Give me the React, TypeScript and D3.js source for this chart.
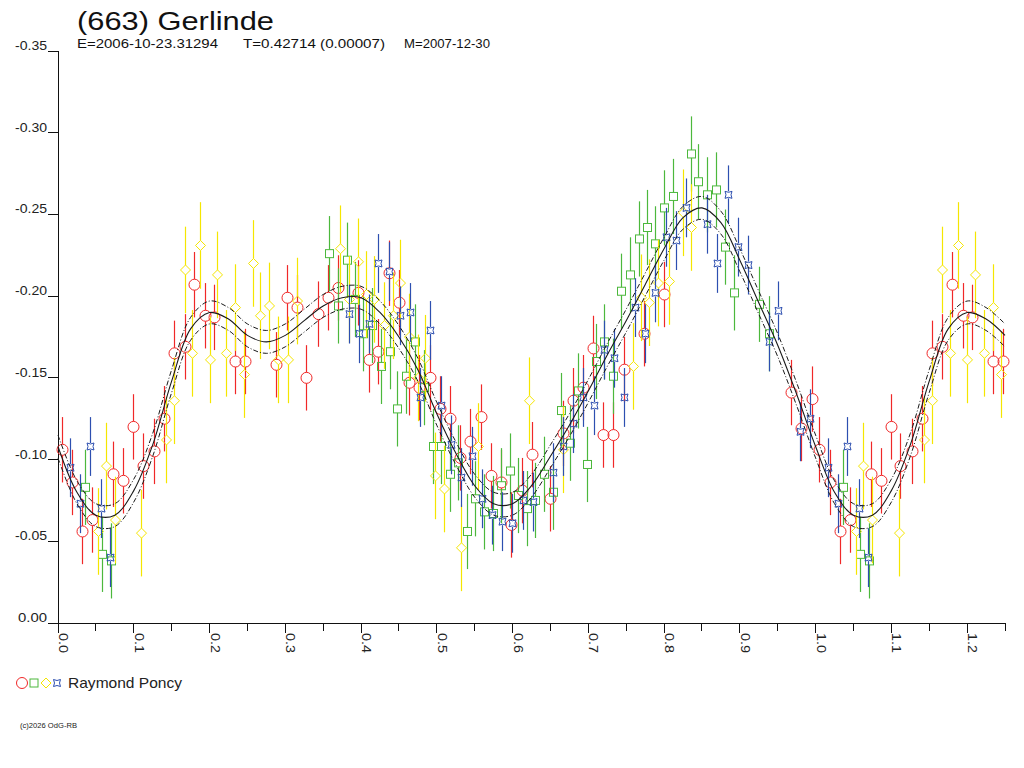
import React, { useEffect, useRef } from "react";
import * as d3 from "d3";

// phase, reduced magnitude
const redPoints: [number, number][] = [
  [0.005, -0.106], [0.019, -0.086], [0.032, -0.056], [0.045, -0.063], [0.073, -0.091],
  [0.086, -0.087], [0.099, -0.120], [0.112, -0.096], [0.127, -0.105], [0.140, -0.125],
  [0.153, -0.165], [0.167, -0.169], [0.180, -0.207], [0.194, -0.188], [0.206, -0.187],
  [0.234, -0.160], [0.247, -0.160], [0.288, -0.158], [0.302, -0.199], [0.315, -0.193],
  [0.328, -0.150], [0.343, -0.189], [0.356, -0.199], [0.369, -0.205], [0.396, -0.202],
  [0.410, -0.161], [0.422, -0.166], [0.437, -0.214], [0.450, -0.196], [0.463, -0.147],
  [0.476, -0.144], [0.491, -0.150], [0.504, -0.131], [0.517, -0.125], [0.530, -0.101],
  [0.544, -0.111], [0.558, -0.126], [0.571, -0.090], [0.585, -0.086], [0.598, -0.060],
  [0.612, -0.081], [0.626, -0.103], [0.649, -0.076], [0.667, -0.116], [0.680, -0.136],
  [0.693, -0.144], [0.706, -0.168], [0.720, -0.115], [0.733, -0.115], [0.747, -0.155],
  [0.774, -0.177], [0.800, -0.201], [0.967, -0.141], [0.981, -0.119], [0.995, -0.137],
];

const greenPoints: [number, number][] = [
  [0.036, -0.083], [0.058, -0.042], [0.070, -0.038], [0.358, -0.226], [0.381, -0.222],
  [0.370, -0.194], [0.392, -0.198], [0.403, -0.177], [0.415, -0.182], [0.426, -0.157],
  [0.438, -0.166], [0.448, -0.131], [0.460, -0.151], [0.471, -0.172], [0.483, -0.144],
  [0.495, -0.108], [0.505, -0.108], [0.517, -0.091], [0.528, -0.098], [0.540, -0.056],
  [0.550, -0.076], [0.562, -0.068], [0.574, -0.067], [0.585, -0.084], [0.597, -0.093],
  [0.607, -0.078], [0.619, -0.070], [0.630, -0.075], [0.642, -0.091], [0.653, -0.080],
  [0.664, -0.130], [0.676, -0.110], [0.687, -0.142], [0.698, -0.097], [0.710, -0.160],
  [0.721, -0.172], [0.733, -0.151], [0.743, -0.203], [0.755, -0.213], [0.767, -0.235],
  [0.778, -0.242], [0.788, -0.232], [0.800, -0.254], [0.812, -0.261], [0.835, -0.287],
  [0.845, -0.270], [0.857, -0.262], [0.868, -0.265], [0.880, -0.230], [0.892, -0.202],
  [0.925, -0.195], [0.938, -0.177],
];

const yellowPoints: [number, number][] = [
  [0.063, -0.096], [0.053, -0.056], [0.075, -0.063], [0.110, -0.055], [0.143, -0.112],
  [0.153, -0.136], [0.167, -0.216], [0.177, -0.165], [0.188, -0.231], [0.200, -0.161],
  [0.210, -0.213], [0.222, -0.165], [0.234, -0.193], [0.245, -0.152], [0.257, -0.220],
  [0.267, -0.188], [0.279, -0.194], [0.290, -0.161], [0.303, -0.161], [0.315, -0.197],
  [0.372, -0.229], [0.396, -0.221], [0.384, -0.198], [0.406, -0.201], [0.417, -0.198],
  [0.430, -0.182], [0.442, -0.188], [0.452, -0.208], [0.463, -0.175], [0.475, -0.150],
  [0.485, -0.162], [0.497, -0.090], [0.509, -0.082], [0.532, -0.046], [0.554, -0.108],
  [0.622, -0.136], [0.667, -0.106], [0.759, -0.157], [0.770, -0.199], [0.780, -0.196],
  [0.792, -0.208], [0.806, -0.209], [0.825, -0.251], [0.835, -0.242],
];

const bluePoints: [number, number][] = [
  [0.016, -0.095], [0.042, -0.108], [0.029, -0.073], [0.057, -0.070], [0.069, -0.040],
  [0.384, -0.189], [0.397, -0.177], [0.410, -0.183], [0.423, -0.220], [0.437, -0.215],
  [0.451, -0.188], [0.464, -0.190], [0.478, -0.138], [0.491, -0.179], [0.505, -0.133],
  [0.519, -0.109], [0.532, -0.089], [0.546, -0.102], [0.560, -0.076], [0.573, -0.066],
  [0.586, -0.062], [0.599, -0.061], [0.614, -0.075], [0.627, -0.074], [0.653, -0.092],
  [0.667, -0.108], [0.680, -0.122], [0.693, -0.138], [0.708, -0.133], [0.721, -0.167],
  [0.734, -0.162], [0.747, -0.138], [0.762, -0.193], [0.775, -0.177], [0.788, -0.202],
  [0.802, -0.236], [0.816, -0.234], [0.829, -0.254], [0.857, -0.244], [0.870, -0.220],
  [0.884, -0.262], [0.897, -0.230], [0.911, -0.219], [0.938, -0.172], [0.951, -0.191],
  [0.979, -0.117], [0.992, -0.125],
];

// error bar half-lengths per session
const redErr = 0.020;
const greenErr = 0.023;
const yellowErr = 0.0265;
const blueErr = 0.018;

// fitted lightcurve over one period
const fitPhases = [
  0.0, 0.025, 0.05, 0.075, 0.1, 0.125, 0.15, 0.175, 0.2, 0.225, 0.25, 0.275, 0.3, 0.325,
  0.35, 0.375, 0.4, 0.425, 0.45, 0.475, 0.5, 0.525, 0.55, 0.575, 0.6, 0.625, 0.65, 0.675,
  0.7, 0.725, 0.75, 0.775, 0.8, 0.825, 0.85, 0.875, 0.9, 0.925, 0.95, 0.975,
];
const fitMags = [
  -0.108, -0.080, -0.066, -0.066, -0.081, -0.109, -0.148, -0.180, -0.190, -0.186, -0.176,
  -0.172, -0.176, -0.185, -0.194, -0.199, -0.199, -0.190, -0.175, -0.155, -0.128, -0.104,
  -0.084, -0.073, -0.073, -0.084, -0.102, -0.121, -0.142, -0.164, -0.185, -0.207, -0.229,
  -0.248, -0.254, -0.245, -0.222, -0.196, -0.170, -0.140,
];
const fitBand = 0.007;

const yTicks = [0, -0.05, -0.1, -0.15, -0.2, -0.25, -0.3, -0.35];
const xMajorTicks = [0, 0.1, 0.2, 0.3, 0.4, 0.5, 0.6, 0.7, 0.8, 0.9, 1.0, 1.1, 1.2];
const xMinorTicks = [0.05, 0.15, 0.25, 0.35, 0.45, 0.55, 0.65, 0.75, 0.85, 0.95, 1.05, 1.15, 1.25];

const RED = "#f02828";
const GREEN = "#4cb83c";
const YELLOW = "#f5e600";
const BLUE = "#2d4fb0";

const FONT = "'Liberation Sans', Arial, sans-serif";

const App: React.FC = () => {
  const svgRef = useRef<SVGSVGElement>(null);

  useEffect(() => {
    if (!svgRef.current) return;
    const svg = d3.select(svgRef.current);
    svg.selectAll("*").remove();

    const x = d3.scaleLinear().domain([0, 1.25]).range([58, 1005]);
    const y = d3.scaleLinear().domain([0, -0.35]).range([623, 51]);

    svg.append("rect").attr("width", 1024).attr("height", 768).attr("fill", "#fff");

    // Titles
    svg.append("text")
      .attr("x", 77).attr("y", 30)
      .attr("textLength", 197).attr("lengthAdjust", "spacingAndGlyphs")
      .style("font-family", FONT).style("font-size", "25px").style("fill", "#111")
      .text("(663) Gerlinde");

    const sub = [
      { x: 77, w: 141, t: "E=2006-10-23.31294" },
      { x: 243, w: 142, t: "T=0.42714 (0.00007)" },
      { x: 404, w: 86, t: "M=2007-12-30" },
    ];
    sub.forEach((s) => {
      svg.append("text")
        .attr("x", s.x).attr("y", 48)
        .attr("textLength", s.w).attr("lengthAdjust", "spacingAndGlyphs")
        .style("font-family", FONT).style("font-size", "13px").style("fill", "#111")
        .text(s.t);
    });

    // Axes
    const axis = svg.append("g").attr("stroke", "#111").attr("stroke-width", 1)
      .attr("shape-rendering", "crispEdges");
    axis.append("line").attr("x1", 58.5).attr("x2", 58.5).attr("y1", y(-0.35)).attr("y2", 633);
    axis.append("line").attr("x1", 48).attr("x2", x(1.25)).attr("y1", y(0)).attr("y2", y(0));

    yTicks.forEach((t) => {
      axis.append("line").attr("x1", 48).attr("x2", 58).attr("y1", y(t)).attr("y2", y(t));
      svg.append("text")
        .attr("x", 47).attr("y", y(t) - 1)
        .attr("text-anchor", "end")
        .attr("textLength", t === 0 ? 29 : 32).attr("lengthAdjust", "spacingAndGlyphs")
        .style("font-family", FONT).style("font-size", "13px").style("fill", "#222")
        .text(t === 0 ? "0.00" : t.toFixed(2));
    });

    xMajorTicks.forEach((t) => {
      axis.append("line").attr("x1", x(t)).attr("x2", x(t)).attr("y1", y(0)).attr("y2", y(0) + 10);
      svg.append("text")
        .attr("transform", `translate(${x(t) + 1},633) rotate(90)`)
        .attr("textLength", 20).attr("lengthAdjust", "spacingAndGlyphs")
        .style("font-family", FONT).style("font-size", "13px").style("fill", "#222")
        .text(t.toFixed(1));
    });
    xMinorTicks.forEach((t) => {
      axis.append("line").attr("x1", x(t)).attr("x2", x(t)).attr("y1", y(0)).attr("y2", y(0) + 8);
    });

    // Marker shapes
    const marker = (g: d3.Selection<SVGGElement, unknown, null, undefined>, kind: string, cx: number, cy: number, color: string) => {
      if (kind === "circle") {
        g.append("circle").attr("cx", cx).attr("cy", cy).attr("r", 5.5)
          .attr("fill", "none").attr("stroke", color).attr("stroke-width", 1);
      } else if (kind === "square") {
        g.append("rect").attr("x", cx - 4).attr("y", cy - 4).attr("width", 8).attr("height", 8)
          .attr("fill", "none").attr("stroke", color).attr("stroke-width", 1);
      } else if (kind === "diamond") {
        g.append("path")
          .attr("d", `M${cx},${cy - 5}L${cx + 5},${cy}L${cx},${cy + 5}L${cx - 5},${cy}Z`)
          .attr("fill", "none").attr("stroke", color).attr("stroke-width", 1);
      } else {
        const s = 3.5;
        g.append("path")
          .attr("d", `M${cx - s},${cy - s}Q${cx},${cy - 1.5} ${cx + s},${cy - s}Q${cx + 1.5},${cy} ${cx + s},${cy + s}Q${cx},${cy + 1.5} ${cx - s},${cy + s}Q${cx - 1.5},${cy} ${cx - s},${cy - s}Z`)
          .attr("fill", "none").attr("stroke", color).attr("stroke-width", 1);
      }
    };

    const sessions = [
      { pts: redPoints, err: redErr, color: RED, kind: "circle", gap: 5.5 },
      { pts: greenPoints, err: greenErr, color: GREEN, kind: "square", gap: 4 },
      { pts: yellowPoints, err: yellowErr, color: YELLOW, kind: "diamond", gap: 5 },
      { pts: bluePoints, err: blueErr, color: BLUE, kind: "star", gap: 3.5 },
    ];

    const dataLayer = svg.append("g");
    sessions.forEach((s) => {
      const all: [number, number][] = [...s.pts, ...s.pts.filter((p) => p[0] + 1 <= 1.25).map((p) => [p[0] + 1, p[1]] as [number, number])];
      const g = dataLayer.append("g");
      all.forEach(([ph, m]) => {
        const cx = Math.round(x(ph)) + 0.5;
        const cy = y(m);
        g.append("line").attr("x1", cx).attr("x2", cx).attr("y1", y(m - s.err)).attr("y2", cy - s.gap)
          .attr("stroke", s.color).attr("stroke-width", 1.2);
        g.append("line").attr("x1", cx).attr("x2", cx).attr("y1", cy + s.gap).attr("y2", y(m + s.err))
          .attr("stroke", s.color).attr("stroke-width", 1.2);
        marker(g, s.kind, cx, cy, s.color);
      });
    });

    // Fitted curve, repeated past phase 1
    const fit: [number, number][] = [];
    [0, 1].forEach((k) => {
      fitPhases.forEach((p, i) => {
        if (p + k <= 1.25) fit.push([p + k, fitMags[i]]);
      });
    });
    const line = d3.line<[number, number]>()
      .x((d) => x(d[0]))
      .y((d) => y(d[1]))
      .curve(d3.curveCatmullRom);

    svg.append("path").attr("d", line(fit) || "")
      .attr("fill", "none").attr("stroke", "#1a1a1a").attr("stroke-width", 1.1);
    [-fitBand, fitBand].forEach((b) => {
      svg.append("path").attr("d", line(fit.map((d) => [d[0], d[1] + b] as [number, number])) || "")
        .attr("fill", "none").attr("stroke", "#1a1a1a").attr("stroke-width", 1)
        .attr("stroke-dasharray", "5,2,1,2");
    });

    // Legend
    const lg = svg.append("g");
    marker(lg, "circle", 22, 683, RED);
    marker(lg, "square", 34, 683, GREEN);
    marker(lg, "diamond", 46, 683, YELLOW);
    marker(lg, "star", 57, 683, BLUE);
    svg.append("text")
      .attr("x", 68).attr("y", 688)
      .attr("textLength", 114).attr("lengthAdjust", "spacingAndGlyphs")
      .style("font-family", FONT).style("font-size", "15px").style("fill", "#222")
      .text("Raymond Poncy");

    svg.append("text")
      .attr("x", 20).attr("y", 728)
      .attr("textLength", 57).attr("lengthAdjust", "spacingAndGlyphs")
      .style("font-family", FONT).style("font-size", "7px").style("fill", "#222")
      .text("(c)2026 OdG-RB");
  }, []);

  return (
    <svg
      ref={svgRef}
      width={1024}
      height={768}
      style={{ position: "absolute", left: 0, top: 0 }}
    />
  );
};

export default App;
